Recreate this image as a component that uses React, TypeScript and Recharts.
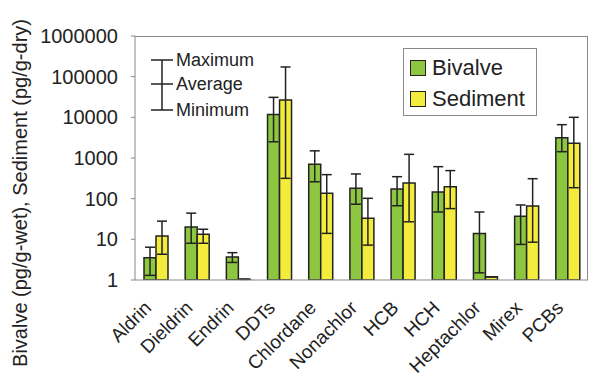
import { BarChart, Bar, XAxis, YAxis, ErrorBar, Legend } from "recharts";

const categories = ["Aldrin", "Dieldrin", "Endrin", "DDTs", "Chlordane", "Nonachlor", "HCB", "HCH", "Heptachlor", "Mirex", "PCBs"];
const bivalveAvg = [3.5, 20, 3.7, 11800, 700, 180, 173, 146, 14, 37, 3160];
const bivalveMax = [6.4, 44, 4.7, 31000, 1500, 405, 347, 612, 47, 70, 6600];
const bivalveMin = [1.3, 8, 2.7, 2500, 260, 73, 67, 47, 1.5, 7.5, 1430];
const sedimentAvg = [12, 13.3, 1.04, 26800, 135, 33, 243, 197, 1.2, 66, 2300];
const sedimentMax = [28, 17.7, 1.04, 173000, 390, 102, 1230, 490, 1.2, 310, 10000];
const sedimentMin = [4.3, 8, 1.04, 316, 14, 7.2, 27, 57, 1.2, 8.5, 186];
const yTicks = [1, 10, 100, 1000, 10000, 100000, 1000000];
const boundaryTicks = [1, 2, 3, 4, 5, 6, 7, 8, 9, 10];

const data = categories.map((name, i) => ({
  name,
  idx: i + 0.5,
  bivalve: bivalveAvg[i],
  bivalveErr: [bivalveAvg[i] - bivalveMin[i], bivalveMax[i] - bivalveAvg[i]],
  sediment: sedimentAvg[i],
  sedimentErr: [sedimentAvg[i] - sedimentMin[i], sedimentMax[i] - sedimentAvg[i]],
}));

const font = "Arial, 'Liberation Sans', sans-serif";
const ink = "#222";
const frame = "#888";
const green = "#8dc63f";
const yellow = "#f3ec3c";

const XTick = ({ x, y, payload }: any) => (
  <g transform={`translate(${x - 3},${y + 21})`}>
    <text textAnchor="end" transform="rotate(-45)" fontSize={19} fontFamily={font} fill={ink}>
      {payload.value}
    </text>
  </g>
);

const LegendBox = ({ payload }: any) => (
  <div style={{ border: `1px solid ${frame}`, background: "#fff", padding: "3px 6px 1px 6px", fontFamily: font, fontSize: 22, color: ink, boxSizing: "border-box" }}>
    {(payload || []).map((p: any) => (
      <div key={p.value} style={{ display: "flex", alignItems: "center", height: 31 }}>
        <span style={{ width: 14, height: 14, background: p.color, border: `1px solid ${ink}`, marginRight: 6 }} />
        {p.value}
      </div>
    ))}
  </div>
);

export default function App() {
  return (
    <div style={{ position: "absolute", left: 0, top: 0, width: 590, height: 378, background: "#fff" }}>
      <BarChart width={590} height={378} data={data} margin={{ top: 36, right: 2, bottom: 0, left: 0 }} barSize={12} barGap={0}>
        <XAxis dataKey="name" height={98} interval={0} tick={<XTick />} tickLine={false} axisLine={{ stroke: frame }} />
        <XAxis xAxisId="t" type="number" dataKey="idx" domain={[0, 11]} ticks={boundaryTicks} mirror height={0} tick={false} axisLine={false} tickLine={{ stroke: frame }} tickSize={5} />
        <YAxis
          scale="log"
          domain={[1, 1000000]}
          ticks={yTicks}
          allowDataOverflow
          width={135}
          tickSize={4}
          tickMargin={13}
          axisLine={{ stroke: frame }}
          tickLine={{ stroke: frame }}
          tick={{ fontSize: 20, fontFamily: font, fill: ink }}
          label={{
            content: ({ viewBox }: any) => {
              const cy = viewBox.y + viewBox.height / 2 + 35;
              return (
                <text x={27} y={cy} transform={`rotate(-90, 27, ${cy})`} textAnchor="middle" fontSize={20} fontFamily={font} fill={ink}>
                  Bivalve (pg/g-wet), Sediment (pg/g-dry)
                </text>
              );
            },
          }}
        />
        <Legend
          layout="horizontal"
          verticalAlign="middle"
          align="center"
          content={<LegendBox />}
          wrapperStyle={{ top: 48, left: 403, width: 134 }}
        />
        <Bar dataKey="bivalve" name="Bivalve" fill={green} stroke={ink} strokeWidth={1.5} isAnimationActive={false}>
          <ErrorBar dataKey="bivalveErr" width={5} stroke={ink} strokeWidth={1.5} />
        </Bar>
        <Bar dataKey="sediment" name="Sediment" fill={yellow} stroke={ink} strokeWidth={1.5} isAnimationActive={false}>
          <ErrorBar dataKey="sedimentErr" width={5} stroke={ink} strokeWidth={1.5} />
        </Bar>
      </BarChart>
      <div style={{ position: "absolute", left: 135, top: 36, width: 453, height: 244, borderTop: `1px solid ${frame}`, borderRight: `1px solid ${frame}`, boxSizing: "border-box", pointerEvents: "none" }} />
      <svg width={120} height={80} style={{ position: "absolute", left: 145, top: 50, overflow: "visible" }}>
        <g stroke={ink} strokeWidth={1.5}>
          <line x1={17} y1={10} x2={17} y2={60} />
          <line x1={6} y1={10} x2={28} y2={10} />
          <line x1={6} y1={34} x2={28} y2={34} />
          <line x1={6} y1={60} x2={28} y2={60} />
        </g>
        <g fontSize={18} fontFamily={font} fill={ink}>
          <text x={31} y={16}>Maximum</text>
          <text x={31} y={40}>Average</text>
          <text x={31} y={66}>Minimum</text>
        </g>
      </svg>
    </div>
  );
}
